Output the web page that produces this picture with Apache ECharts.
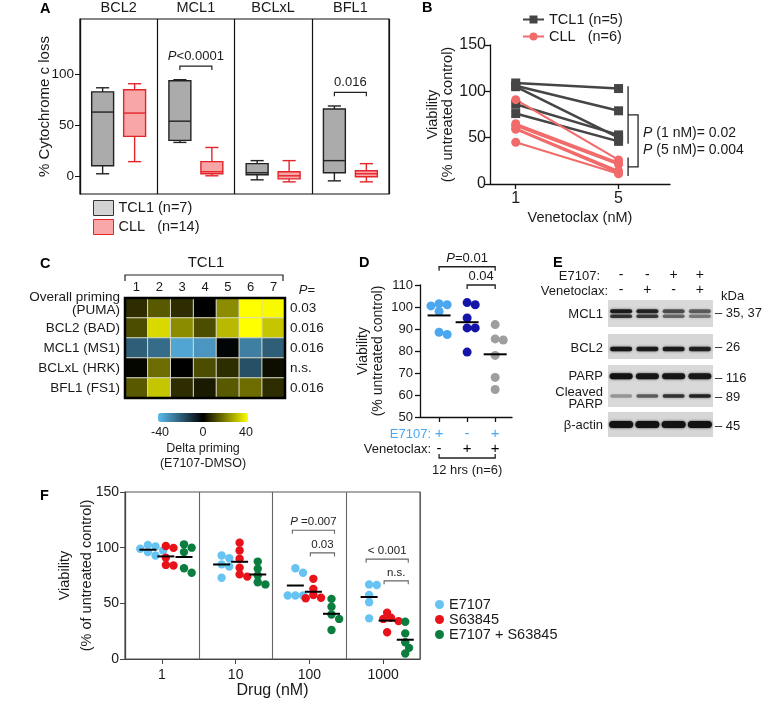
<!DOCTYPE html>
<html><head><meta charset="utf-8">
<script src="https://cdn.jsdelivr.net/npm/echarts@6/dist/echarts.min.js"></script>
<style>html,body{margin:0;padding:0;background:#fff}#c{width:766px;height:702px}</style>
</head><body><div id="c"></div>
<script>
const FONT = 'Liberation Sans, Arial, Helvetica, sans-serif';

// ---------- Panel A : % cytochrome c loss (box plots) ----------
const aTargets = ['BCL2', 'MCL1', 'BCLxL', 'BFL1'];
// [min, q1, median, q3, max]
const aTCL1Box = [[2, 10, 63, 83, 87], [33, 35, 54, 94, 95], [-4, 1, 3, 12, 15], [-5, 3, 15, 66, 69]];
const aCLLBox  = [[14, 39, 62, 85, 91], [0, 2, 4, 14, 28], [-6, -3, 0, 4, 15], [-6, -1, 2, 5, 12]];
const aPValues = ['', 'P<0.0001', '', '0.016'];
const aYTicks = [0, 50, 100];

// ---------- Panel B : viability vs venetoclax ----------
const bDoses = [1, 5];
const bTCL1 = [[109, 103], [106, 79], [105, 50], [86, 53], [76, 46]];
const bCLL  = [[91, 26], [65, 23], [63, 21], [60, 14], [59, 12], [45, 11]];
const bPTexts = ['P (1 nM)= 0.02', 'P (5 nM)= 0.004'];

// ---------- Panel C : delta priming heatmap ----------
const cPatients = ['1', '2', '3', '4', '5', '6', '7'];
const cRows = ['Overall priming\n(PUMA)', 'BCL2 (BAD)', 'MCL1 (MS1)', 'BCLxL (HRK)', 'BFL1 (FS1)'];
const cPValues = ['0.03', '0.016', '0.016', 'n.s.', '0.016'];
const cDelta = [
  [7, 14, 7, 0, 22, 40, 39],
  [12, 34, 22, 12, 29, 40, 31],
  [-20, -23, -35, -32, -1, -27, -20],
  [1, 17, 0, 12, 7, -17, 2],
  [14, 31, 7, 4, 14, 17, 7]
];

// ---------- Panel D : viability 12 hrs ----------
const dE7107 = ['+', '-', '+'];
const dVenetoclax = ['-', '+', '+'];
const dValues = [
  [101.5, 101, 100.5, 98, 88.5, 87.5],
  [102, 101, 95, 90.5, 90.5, 79.5],
  [92, 85.5, 85, 78, 68, 62.5]
];

// ---------- Panel E : western blot band intensities ----------
const eLanes = ['1', '2', '3', '4'];
const eE7107 = ['-', '-', '+', '+'];
const eVenetoclax = ['-', '+', '-', '+'];
const eMCL1Upper = [0.9, 0.85, 0.62, 0.55];
const eMCL1Lower = [0.75, 0.72, 0.5, 0.42];
const eBCL2 = [0.95, 0.9, 0.9, 0.85];
const ePARP = [1, 0.95, 0.95, 0.93];
const eCleaved = [0.3, 0.55, 0.75, 0.85];
const eActin = [1, 1, 1, 1];

// ---------- Panel F : viability vs drug ----------
const fDoses = ['1', '10', '100', '1000'];
const fE7107 = [[102.5, 101, 99, 97.5, 96, 93], [93, 90.5, 85, 83, 73], [81.5, 77.5, 57, 57, 57], [67, 66.5, 57.5, 51, 36.5]];
const fS63845 = [[101.5, 99.8, 91, 84.5, 84], [104.5, 97.5, 90, 82, 76, 74], [72, 63, 57.5, 55, 54.5], [41.5, 37, 36, 34, 24]];
const fCombo = [[103, 100, 96, 81.5, 77.5], [87.5, 81, 75, 69, 67], [54, 47, 40, 36, 26], [33.5, 23, 15, 10, 5]];

// ================= layout =================
const G = {
  A: {left: 80, top: 19, width: 309, height: 175},
  B: {left: 490, top: 45, width: 180, height: 139},
  C: {left: 125, top: 298, width: 160, height: 100},
  D: {left: 420, top: 285, width: 92, height: 132},
  E1: {left: 608, top: 300, width: 105, height: 27},
  E2: {left: 608, top: 334, width: 105, height: 25},
  E3: {left: 608, top: 365, width: 105, height: 42},
  E4: {left: 608, top: 412, width: 105, height: 25},
  F: {left: 125, top: 492, width: 295, height: 167}
};
const dPx = G.D.height / 60;
const fPx = G.F.height / 150;

function pRich(s, size, color) {
  color = color || '#1a1a1a';
  const base = {fontSize: size, fontFamily: FONT, fill: color};
  if (s.charAt(0) === 'P') {
    return {text: '{i|P}{n|' + s.slice(1) + '}', rich: {i: Object.assign({fontStyle: 'italic'}, base), n: base}};
  }
  return {text: '{n|' + s + '}', rich: {n: base}};
}
function swarm(values, pxPerUnit, diam) {
  const order = values.map((v, i) => i).sort((a, b) => values[b] - values[a]);
  const placed = []; const off = values.map(() => 0);
  const step = diam * 0.45;
  order.forEach(i => {
    const y = values[i] * pxPerUnit;
    for (let k = 0; k < 30; k++) {
      const c = k === 0 ? 0 : (k % 2 ? 1 : -1) * Math.ceil(k / 2) * step;
      if (placed.every(p => Math.hypot(p.x - c, p.y - y) >= diam * 0.7)) { off[i] = c; placed.push({x: c, y}); break; }
    }
  });
  return off;
}
const mean = a => a.reduce((s, v) => s + v, 0) / a.length;

const series = [];

// ---- A boxes
function boxSeries(name, data, side, fill, stroke) {
  return {
    type: 'custom', name, xAxisIndex: 0, yAxisIndex: 0,
    itemStyle: {color: fill, borderColor: stroke},
    data: data.map((d, i) => [i].concat(d)),
    renderItem(params, api) {
      const c = api.value(0);
      const band = api.size([1, 0])[0];
      const cx = api.coord([c, 0])[0] + side * 0.207 * band;
      const hw = 0.142 * band, cw = 0.085 * band;
      const y = k => api.coord([c, api.value(k)])[1];
      const ymin = y(1), yq1 = y(2), ymed = y(3), yq3 = y(4), ymax = y(5);
      const ls = {stroke, lineWidth: 1.4};
      return {type: 'group', children: [
        {type: 'line', shape: {x1: cx, y1: ymax, x2: cx, y2: yq3}, style: ls},
        {type: 'line', shape: {x1: cx, y1: yq1, x2: cx, y2: ymin}, style: ls},
        {type: 'line', shape: {x1: cx - cw, y1: ymax, x2: cx + cw, y2: ymax}, style: ls},
        {type: 'line', shape: {x1: cx - cw, y1: ymin, x2: cx + cw, y2: ymin}, style: ls},
        {type: 'rect', shape: {x: cx - hw, y: yq3, width: 2 * hw, height: yq1 - yq3}, style: {fill, stroke, lineWidth: 1.4}},
        {type: 'line', shape: {x1: cx - hw, y1: ymed, x2: cx + hw, y2: ymed}, style: ls}
      ]};
    }
  };
}
series.push(boxSeries('TCL1 (n=7)', aTCL1Box, -1, '#ababab', '#222'));
series.push(boxSeries('CLL   (n=14)', aCLLBox, 1, '#f9a6a6', '#e3242b'));
series.push({
  type: 'custom', xAxisIndex: 0, yAxisIndex: 0, silent: true,
  data: aPValues.map((p, i) => [i, Math.max(aTCL1Box[i][4], aCLLBox[i][4]) + 13.5]).filter((d, i) => aPValues[i] !== ''),
  renderItem(params, api) {
    const c = api.value(0);
    const band = api.size([1, 0])[0];
    const x0 = api.coord([c, 0])[0];
    const y = api.coord([c, api.value(1)])[1];
    const x1 = x0 - 0.207 * band, x2 = x0 + 0.207 * band;
    const t = pRich(aPValues[c], 13);
    const ls = {stroke: '#222', lineWidth: 1.2, fill: null};
    return {type: 'group', children: [
      {type: 'polyline', shape: {points: [[x1, y + 4], [x1, y], [x2, y], [x2, y + 4]]}, style: ls},
      {type: 'text', x: x0, y: y - 3, style: {text: t.text, rich: t.rich, align: 'center', verticalAlign: 'bottom'}}
    ]};
  }
});

// ---- B lines
bTCL1.forEach(s => series.push({
  type: 'line', name: 'TCL1 (n=5)', xAxisIndex: 1, yAxisIndex: 1,
  data: s.map((v, i) => [bDoses[i], v]), symbol: 'rect', symbolSize: 9,
  itemStyle: {color: '#454545'}, lineStyle: {color: '#454545', width: 2.5}
}));
bCLL.forEach(s => series.push({
  type: 'line', name: 'CLL   (n=6)', xAxisIndex: 1, yAxisIndex: 1,
  data: s.map((v, i) => [bDoses[i], v]), symbol: 'circle', symbolSize: 9,
  itemStyle: {color: '#f26b6b'}, lineStyle: {color: '#f26b6b', width: 2.2}
}));
{
  const hi = bDoses.length - 1;
  const tVals = bTCL1.map(s => s[hi]), cVals = bCLL.map(s => s[hi]);
  series.push({
    type: 'custom', xAxisIndex: 1, yAxisIndex: 1, silent: true,
    data: [[bDoses[hi], Math.max(...tVals) + 2.5, Math.min(...tVals) - 2.5, Math.max(...cVals) + 2.5, Math.min(...cVals) - 2.5]],
    renderItem(params, api) {
      const x = api.coord([api.value(0), 0])[0];
      const Y = k => api.coord([api.value(0), api.value(k)])[1];
      const a1 = Y(1), a2 = Y(2), b1 = Y(3), b2 = Y(4);
      const ma = (a1 + a2) / 2, mb = (b1 + b2) / 2, mid = (ma + mb) / 2;
      const xl = x + 9.5, xc = x + 19.5;
      const ls = {stroke: '#222', lineWidth: 1.3, fill: null};
      const t1 = pRich(bPTexts[0], 14), t2 = pRich(bPTexts[1], 14);
      return {type: 'group', children: [
        {type: 'line', shape: {x1: xl, y1: a1, x2: xl, y2: a2}, style: ls},
        {type: 'line', shape: {x1: xl, y1: b1, x2: xl, y2: b2}, style: ls},
        {type: 'polyline', shape: {points: [[xl, ma], [xc, ma], [xc, mb], [xl, mb]]}, style: ls},
        {type: 'text', x: xc + 5, y: mid - 8, style: {text: t1.text, rich: t1.rich, align: 'left', verticalAlign: 'middle'}},
        {type: 'text', x: xc + 5, y: mid + 9, style: {text: t2.text, rich: t2.rich, align: 'left', verticalAlign: 'middle'}}
      ]};
    }
  });
}

// ---- C heatmap
const heatIndex = series.length;
const heatData = [];
cDelta.forEach((row, r) => row.forEach((v, c) => heatData.push([c, r, v])));
series.push({
  type: 'heatmap', xAxisIndex: 2, yAxisIndex: 2, data: heatData,
  itemStyle: {borderColor: '#d9d9c8', borderWidth: 1}, emphasis: {disabled: true}
});

// ---- D dots
const dColors = ['#4ba7ef', '#1414a8', '#9e9e9e'];
dValues.forEach((arr, i) => {
  const off = swarm(arr, dPx, 9);
  series.push({
    type: 'custom', name: 'D' + i, xAxisIndex: 3, yAxisIndex: 3, silent: true,
    data: arr.map((v, j) => [i + 1, v, off[j]]),
    renderItem(params, api) {
      const p = api.coord([api.value(0), api.value(1)]);
      return {type: 'circle', shape: {cx: p[0] + api.value(2), cy: p[1], r: 4.5}, style: {fill: dColors[i]}};
    }
  });
});
series.push({
  type: 'custom', xAxisIndex: 3, yAxisIndex: 3, silent: true, z: 5,
  data: dValues.map((arr, i) => [i + 1, mean(arr)]),
  renderItem(params, api) {
    const p = api.coord([api.value(0), api.value(1)]);
    return {type: 'line', shape: {x1: p[0] - 11.5, y1: p[1], x2: p[0] + 11.5, y2: p[1]}, style: {stroke: '#000', lineWidth: 2}};
  }
});
series.push({
  type: 'custom', xAxisIndex: 3, yAxisIndex: 3, silent: true,
  data: [[0]],
  renderItem(params, api) {
    const P = (x, y) => api.coord([x, y]);
    const ls = {stroke: '#222', lineWidth: 1.3, fill: null};
    const b1 = P(1, 118.3), b3 = P(3, 118.3), c2 = P(2, 110), c3 = P(3, 110);
    const g1 = P(1, 50), g3 = P(3, 50);
    const t1 = pRich('P=0.01', 13), t2 = pRich('0.04', 13);
    const yb = g1[1] + 41;
    return {type: 'group', children: [
      {type: 'polyline', shape: {points: [[b1[0], b1[1] + 4], [b1[0], b1[1]], [b3[0], b3[1]], [b3[0], b3[1] + 4]]}, style: ls},
      {type: 'text', x: (b1[0] + b3[0]) / 2, y: b1[1] - 2, style: {text: t1.text, rich: t1.rich, align: 'center', verticalAlign: 'bottom'}},
      {type: 'polyline', shape: {points: [[c2[0], c2[1] + 4], [c2[0], c2[1]], [c3[0], c3[1]], [c3[0], c3[1] + 4]]}, style: ls},
      {type: 'text', x: (c2[0] + c3[0]) / 2, y: c2[1] - 2, style: {text: t2.text, rich: t2.rich, align: 'center', verticalAlign: 'bottom'}},
      {type: 'polyline', shape: {points: [[g1[0], yb - 4], [g1[0], yb], [g3[0], yb], [g3[0], yb - 4]]}, style: ls},
      {type: 'text', x: (g1[0] + g3[0]) / 2, y: yb + 12, style: {text: '12 hrs (n=6)', fontSize: 13, fontFamily: FONT, fill: '#1a1a1a', align: 'center', verticalAlign: 'middle'}}
    ]};
  }
});

// ---- E blot bands
function bandSeries(gi, values, frac, h, w) {
  return {
    type: 'custom', xAxisIndex: gi, yAxisIndex: gi, silent: true,
    data: values.map((v, i) => [i, v]),
    renderItem(params, api) {
      const cs = params.coordSys;
      const cx = api.coord([api.value(0), 0])[0];
      const cy = cs.y + frac * cs.height;
      const a = api.value(1);
      return {type: 'rect', shape: {x: cx - w / 2, y: cy - h / 2, width: w, height: h, r: h / 2},
        style: {fill: 'rgba(18,18,18,' + a + ')', shadowBlur: 2.5, shadowColor: 'rgba(18,18,18,' + (a * 0.8) + ')'}};
    }
  };
}
series.push(bandSeries(4, eMCL1Upper, 0.42, 4, 22));
series.push(bandSeries(4, eMCL1Lower, 0.6, 3.5, 22));
series.push(bandSeries(5, eBCL2, 0.6, 4.5, 22));
series.push(bandSeries(6, ePARP, 0.27, 6, 23));
series.push(bandSeries(6, eCleaved, 0.74, 3.5, 22));
series.push(bandSeries(7, eActin, 0.5, 7, 24));

// ---- F dots
const fOff = [-0.19, 0.054, 0.3];
const fGroups = [['E7107', '#67c4f2', fE7107], ['S63845', '#e8121b', fS63845], ['E7107 + S63845', '#0b7d3e', fCombo]];
fGroups.forEach(([name, color, vals], g) => {
  const data = [];
  vals.forEach((arr, i) => { const off = swarm(arr, fPx, 8.5); arr.forEach((v, j) => data.push([i, v, off[j]])); });
  series.push({
    type: 'custom', name, xAxisIndex: 8, yAxisIndex: 8, itemStyle: {color}, data,
    renderItem(params, api) {
      const p = api.coord([api.value(0), api.value(1)]);
      const band = api.size([1, 0])[0];
      return {type: 'circle', shape: {cx: p[0] + fOff[g] * band + api.value(2), cy: p[1], r: 4.2}, style: {fill: color}};
    }
  });
});
series.push({
  type: 'custom', xAxisIndex: 8, yAxisIndex: 8, silent: true, z: 5,
  data: fGroups.flatMap(([n, c, vals], g) => vals.map((arr, i) => [i, mean(arr), g])),
  renderItem(params, api) {
    const p = api.coord([api.value(0), api.value(1)]);
    const band = api.size([1, 0])[0];
    const cx = p[0] + fOff[api.value(2)] * band;
    return {type: 'line', shape: {x1: cx - 8.5, y1: p[1], x2: cx + 8.5, y2: p[1]}, style: {stroke: '#000', lineWidth: 2}};
  }
});
series.push({
  type: 'custom', xAxisIndex: 8, yAxisIndex: 8, silent: true,
  data: [[2, 0, 2, 115.7, 'P =0.007'], [2, 1, 2, 95.3, '0.03'], [3, 0, 2, 89.7, '< 0.001'], [3, 1, 2, 70.2, 'n.s.']],
  renderItem(params, api) {
    const c = api.value(0);
    const band = api.size([1, 0])[0];
    const x0 = api.coord([c, 0])[0];
    const y = api.coord([c, api.value(3)])[1];
    const x1 = x0 + fOff[api.value(1)] * band - 3, x2 = x0 + fOff[api.value(2)] * band + 3;
    const t = pRich(api.value(4), 11.5, '#222');
    return {type: 'group', children: [
      {type: 'polyline', shape: {points: [[x1, y + 3.5], [x1, y], [x2, y], [x2, y + 3.5]]}, style: {stroke: '#666', lineWidth: 1.1, fill: null}},
      {type: 'text', x: (x1 + x2) / 2, y: y - 2, style: {text: t.text, rich: t.rich, align: 'center', verticalAlign: 'bottom'}}
    ]};
  }
});

// ================= axes =================
const blk = '#111';
const hidden = {show: false};
const xAxis = [
  {gridIndex: 0, type: 'category', data: aTargets, position: 'top', axisLine: hidden, axisTick: hidden,
   splitLine: {show: true, interval: 0, lineStyle: {color: blk, width: 1.2}}, axisLabel: {interval: 0, fontSize: 14.5, color: '#1a1a1a', margin: 4}},
  {gridIndex: 1, type: 'value', min: 0, max: 7, axisLine: {show: true, lineStyle: {color: blk, width: 1.3}},
   axisTick: {show: true, customValues: bDoses, length: 5, lineStyle: {color: blk, width: 1.3}},
   axisLabel: {customValues: bDoses, fontSize: 16, color: '#1a1a1a', margin: 7}, splitLine: hidden,
   name: 'Venetoclax (nM)', nameLocation: 'middle', nameGap: 26, nameMoveOverlap: false, nameTextStyle: {fontSize: 14.5, color: '#1a1a1a'}},
  {gridIndex: 2, type: 'category', data: cPatients, position: 'top', axisLine: hidden, axisTick: hidden, splitLine: hidden,
   axisLabel: {interval: 0, fontSize: 13, color: '#1a1a1a', margin: 4}},
  {gridIndex: 3, type: 'value', min: 0.32, max: 3.6, axisLine: {show: true, lineStyle: {color: blk, width: 1.3}},
   axisTick: {show: true, customValues: [1, 2, 3], length: 5, lineStyle: {color: blk, width: 1.3}}, splitLine: hidden,
   axisLabel: {customValues: [1, 2, 3], margin: 9, lineHeight: 15,
     formatter: v => '{e|' + dE7107[Math.round(v) - 1] + '}\n{v|' + dVenetoclax[Math.round(v) - 1] + '}',
     rich: {e: {color: '#4ba7ef', fontSize: 15, lineHeight: 15, fontFamily: FONT}, v: {color: '#000', fontSize: 15, lineHeight: 15, fontFamily: FONT}}}},
  {gridIndex: 4, type: 'category', data: eLanes, position: 'top', axisLine: hidden, axisTick: hidden, splitLine: hidden,
   axisLabel: {interval: 0, margin: 2, lineHeight: 15, formatter: (v, i) => '{s|' + eE7107[i] + '}\n{s|' + eVenetoclax[i] + '}',
     rich: {s: {fontSize: 14, lineHeight: 15, color: '#111', fontFamily: FONT}}}},
  {gridIndex: 5, type: 'category', data: eLanes, show: false},
  {gridIndex: 6, type: 'category', data: eLanes, show: false},
  {gridIndex: 7, type: 'category', data: eLanes, show: false},
  {gridIndex: 8, type: 'category', data: fDoses, axisLine: {show: true, lineStyle: {color: '#444', width: 1.2}},
   axisTick: {show: true, alignWithLabel: true, length: 5, lineStyle: {color: '#444'}},
   splitLine: {show: true, interval: 0, lineStyle: {color: '#666', width: 1.1}},
   axisLabel: {interval: 0, fontSize: 14, color: '#1a1a1a', margin: 9},
   name: 'Drug (nM)', nameLocation: 'middle', nameGap: 24, nameMoveOverlap: false, nameTextStyle: {fontSize: 16, color: '#1a1a1a'}}
];
const yAxis = [
  {gridIndex: 0, type: 'value', min: -18, max: 155, axisLine: {show: true, lineStyle: {color: blk, width: 1.2}},
   axisTick: {show: true, customValues: aYTicks, length: 5, lineStyle: {color: blk}}, splitLine: hidden,
   axisLabel: {customValues: aYTicks, fontSize: 13.5, color: '#1a1a1a', margin: 6},
   name: '% Cytochrome c loss', nameLocation: 'middle', nameGap: 27, nameMoveOverlap: false, nameTextStyle: {fontSize: 15, color: '#1a1a1a', lineHeight: 16}},
  {gridIndex: 1, type: 'value', min: 0, max: 150, interval: 50, axisLine: {show: true, lineStyle: {color: blk, width: 1.3}},
   axisTick: {show: true, length: 5, lineStyle: {color: blk, width: 1.3}}, splitLine: hidden,
   axisLabel: {fontSize: 16, color: '#1a1a1a', margin: 4},
   name: 'Viability\n(% untreated control)', nameLocation: 'middle', nameGap: 35, nameMoveOverlap: false,
   nameTextStyle: {fontSize: 14.5, color: '#1a1a1a', lineHeight: 15}},
  {gridIndex: 2, type: 'category', data: cRows, inverse: true, axisLine: hidden, axisTick: hidden, splitLine: hidden,
   axisLabel: {interval: 0, margin: 5, fontSize: 13.5, color: '#1a1a1a', lineHeight: 13,
     formatter: (v, i) => i === 0 ? '{t|Overall priming}\n{t|(PUMA)}\n{s| }' : '{t|' + v + '}',
     rich: {t: {fontSize: 13.5, lineHeight: 13, color: '#1a1a1a', fontFamily: FONT, align: 'right'}, s: {fontSize: 4, height: 9, lineHeight: 9}}}},
  {gridIndex: 3, type: 'value', min: 50, max: 110, interval: 10, axisLine: {show: true, lineStyle: {color: blk, width: 1.3}},
   axisTick: {show: true, length: 5, lineStyle: {color: blk, width: 1.3}}, splitLine: hidden,
   axisLabel: {fontSize: 13, color: '#1a1a1a', margin: 7},
   name: 'Viability\n(% untreated control)', nameLocation: 'middle', nameGap: 34, nameMoveOverlap: false,
   nameTextStyle: {fontSize: 14, color: '#1a1a1a', lineHeight: 15}},
  {gridIndex: 4, type: 'value', min: 0, max: 1, show: false},
  {gridIndex: 5, type: 'value', min: 0, max: 1, show: false},
  {gridIndex: 6, type: 'value', min: 0, max: 1, show: false},
  {gridIndex: 7, type: 'value', min: 0, max: 1, show: false},
  {gridIndex: 8, type: 'value', min: 0, max: 150, interval: 50, axisLine: {show: true, lineStyle: {color: '#444', width: 1.2}},
   axisTick: {show: true, length: 5, lineStyle: {color: '#444'}}, splitLine: hidden,
   axisLabel: {fontSize: 14, color: '#1a1a1a', margin: 6},
   name: 'Viability\n(% of untreated control)', nameLocation: 'middle', nameGap: 27, nameMoveOverlap: false,
   nameTextStyle: {fontSize: 14.5, color: '#1a1a1a', lineHeight: 22}},
  {gridIndex: 2, type: 'category', data: cPValues, inverse: true, position: 'right', axisLine: hidden, axisTick: hidden, splitLine: hidden,
   axisLabel: {interval: 0, margin: 5, fontSize: 13.5, color: '#1a1a1a'}}
];

const grid = [
  Object.assign({show: true, borderColor: blk, borderWidth: 1.2, backgroundColor: 'transparent'}, G.A),
  Object.assign({}, G.B),
  Object.assign({}, G.C),
  Object.assign({}, G.D),
  Object.assign({show: true, backgroundColor: '#d9d9d9', borderWidth: 0}, G.E1),
  Object.assign({show: true, backgroundColor: '#d6d6d6', borderWidth: 0}, G.E2),
  Object.assign({show: true, backgroundColor: '#d9d9d9', borderWidth: 0}, G.E3),
  Object.assign({show: true, backgroundColor: '#d6d6d6', borderWidth: 0}, G.E4),
  Object.assign({show: true, borderColor: '#555', borderWidth: 1.2, backgroundColor: 'transparent'}, G.F)
];

// ================= text / decorations =================
function T(x, y, text, o) {
  o = o || {};
  return {type: 'text', x, y, silent: true, z: 10, style: Object.assign({text, fontSize: 13, fontFamily: FONT, fill: '#1a1a1a', align: 'left', verticalAlign: 'middle'}, o)};
}
function L(pts, o) {
  return {type: 'polyline', silent: true, z: 10, shape: {points: pts}, style: Object.assign({stroke: '#222', lineWidth: 1.3, fill: null}, o || {})};
}
const bold = {fontSize: 14.5, fontWeight: 'bold', fill: '#000'};
const pEq = pRich('P=', 13);
const graphic = [
  T(40, 9, 'A', bold), T(422, 8, 'B', bold), T(40, 264, 'C', bold), T(359, 263, 'D', bold), T(553, 263, 'E', bold), T(40, 496, 'F', bold),
  // C header
  T(206, 263, 'TCL1', {fontSize: 15, align: 'center'}),
  L([[125, 281], [125, 275], [283, 275], [283, 281]], {lineWidth: 1.2}),
  {type: 'text', x: 307, y: 290, silent: true, style: {text: pEq.text, rich: pEq.rich, align: 'center', verticalAlign: 'middle'}},
  {type: 'rect', silent: true, z: 10, shape: {x: G.C.left, y: G.C.top, width: G.C.width, height: G.C.height}, style: {fill: null, stroke: '#000', lineWidth: 2.5}},
  T(160, 433, '-40', {align: 'center', fontSize: 12.5}), T(203, 433, '0', {align: 'center', fontSize: 12.5}), T(246, 433, '40', {align: 'center', fontSize: 12.5}),
  T(203, 449, 'Delta priming', {align: 'center', fontSize: 12.5}), T(203, 464, '(E7107-DMSO)', {align: 'center', fontSize: 12.5}),
  // D row titles
  T(431, 434, 'E7107:', {align: 'right', fill: '#4ba7ef'}), T(431, 449, 'Venetoclax:', {align: 'right'}),
  // E labels
  T(600, 276, 'E7107:', {align: 'right'}), T(608, 291, 'Venetoclax:', {align: 'right'}), T(721, 296, 'kDa'),
  T(603, 314, 'MCL1', {align: 'right'}), T(715, 313, '– 35, 37'),
  T(603, 348, 'BCL2', {align: 'right'}), T(715, 347, '– 26'),
  T(603, 376, 'PARP', {align: 'right'}), T(715, 378, '– 116'),
  T(603, 392, 'Cleaved', {align: 'right'}), T(603, 404, 'PARP', {align: 'right'}), T(715, 397, '– 89'),
  T(603, 425, 'β-actin', {align: 'right'}), T(715, 426, '– 45')
];

const legend = [
  {left: 93, top: 200, padding: 0, orient: 'vertical', itemWidth: 20, itemHeight: 15, itemGap: 3, selectedMode: false,
   textStyle: {fontSize: 14.5, color: '#1a1a1a', fontFamily: FONT},
   data: [{name: 'TCL1 (n=7)', icon: 'rect', itemStyle: {color: '#d3d3d3', borderColor: '#333', borderWidth: 1}},
          {name: 'CLL   (n=14)', icon: 'rect', itemStyle: {color: '#f9a7a7', borderColor: '#e3242b', borderWidth: 1}}]},
  {left: 522, top: 12, padding: 0, orient: 'vertical', itemWidth: 21, itemHeight: 10, itemGap: 2, selectedMode: false,
   textStyle: {fontSize: 14.5, color: '#1a1a1a', fontFamily: FONT},
   data: ['TCL1 (n=5)', 'CLL   (n=6)']},
  {left: 435, top: 597, padding: 0, orient: 'vertical', itemWidth: 9, itemHeight: 9, itemGap: 0, selectedMode: false,
   textStyle: {fontSize: 14.5, color: '#1a1a1a', fontFamily: FONT, lineHeight: 14.5},
   data: fGroups.map(([n, c]) => ({name: n, icon: 'circle', itemStyle: {color: c}}))}
];

const option = {
  animation: false,
  backgroundColor: '#fff',
  textStyle: {fontFamily: FONT},
  grid, xAxis, yAxis, series, legend, graphic,
  visualMap: {type: 'continuous', min: -40, max: 40, seriesIndex: heatIndex, orient: 'horizontal',
    left: 158, top: 413, itemWidth: 9, itemHeight: 90, padding: 0, calculable: false, realtime: false,
    inRange: {color: ['#5cbcf0', '#000000', '#ffff00']}, textStyle: {fontSize: 1, color: 'rgba(0,0,0,0)'}}
};
const chart = echarts.init(document.getElementById('c'));
chart.setOption(option);
</script></body></html>
